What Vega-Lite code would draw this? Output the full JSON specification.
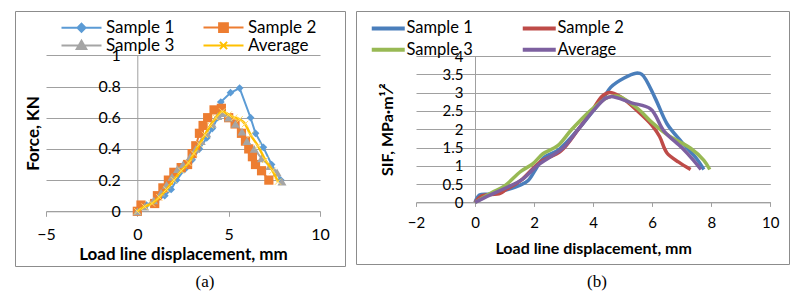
{
  "$schema": "https://vega.github.io/schema/vega-lite/v6.json",
  "padding": {"left": 14, "top": 10, "right": 0, "bottom": 0},
  "background": "white",
  "spacing": 9,
  "config": {
    "font": "Lato",
    "view": {"stroke": "#8c8c8c", "strokeWidth": 1},
    "axis": {"labelFont": "Lato", "titleFont": "Lato", "labelColor": "#000000", "titleColor": "#000000", "domainColor": "#a0a0a0", "gridColor": "#a0a0a0", "tickColor": "#a0a0a0", "domainWidth": 1, "gridWidth": 1},
    "legend": {"labelFont": "Lato", "labelColor": "#000000"}
  },
  "resolve": {"scale": {"color": "independent", "x": "independent", "y": "independent"}, "legend": {"color": "independent"}},
  "datasets": {
    "force": [
      {"s": "Sample 1", "d": 0, "v": 0}, {"s": "Sample 1", "d": 0.2, "v": 0.03}, {"s": "Sample 1", "d": 0.5, "v": 0.04}, {"s": "Sample 1", "d": 1.0, "v": 0.06}, {"s": "Sample 1", "d": 1.5, "v": 0.1}, {"s": "Sample 1", "d": 1.85, "v": 0.14}, {"s": "Sample 1", "d": 2.15, "v": 0.2}, {"s": "Sample 1", "d": 2.6, "v": 0.27}, {"s": "Sample 1", "d": 3.0, "v": 0.33}, {"s": "Sample 1", "d": 3.4, "v": 0.4}, {"s": "Sample 1", "d": 3.8, "v": 0.47}, {"s": "Sample 1", "d": 4.1, "v": 0.53}, {"s": "Sample 1", "d": 4.4, "v": 0.6}, {"s": "Sample 1", "d": 4.57, "v": 0.7}, {"s": "Sample 1", "d": 5.1, "v": 0.76}, {"s": "Sample 1", "d": 5.6, "v": 0.79}, {"s": "Sample 1", "d": 6.2, "v": 0.6}, {"s": "Sample 1", "d": 6.47, "v": 0.5}, {"s": "Sample 1", "d": 6.9, "v": 0.41}, {"s": "Sample 1", "d": 7.35, "v": 0.3}, {"s": "Sample 1", "d": 7.85, "v": 0.2},
      {"s": "Sample 2", "d": 0, "v": 0}, {"s": "Sample 2", "d": 0.2, "v": 0.04}, {"s": "Sample 2", "d": 0.95, "v": 0.05}, {"s": "Sample 2", "d": 1.1, "v": 0.1}, {"s": "Sample 2", "d": 1.4, "v": 0.15}, {"s": "Sample 2", "d": 1.7, "v": 0.2}, {"s": "Sample 2", "d": 2.0, "v": 0.25}, {"s": "Sample 2", "d": 2.4, "v": 0.28}, {"s": "Sample 2", "d": 2.75, "v": 0.3}, {"s": "Sample 2", "d": 3.0, "v": 0.37}, {"s": "Sample 2", "d": 3.2, "v": 0.42}, {"s": "Sample 2", "d": 3.4, "v": 0.5}, {"s": "Sample 2", "d": 3.6, "v": 0.55}, {"s": "Sample 2", "d": 3.85, "v": 0.6}, {"s": "Sample 2", "d": 4.2, "v": 0.65}, {"s": "Sample 2", "d": 4.6, "v": 0.66}, {"s": "Sample 2", "d": 5.0, "v": 0.6}, {"s": "Sample 2", "d": 5.35, "v": 0.56}, {"s": "Sample 2", "d": 5.7, "v": 0.5}, {"s": "Sample 2", "d": 5.92, "v": 0.45}, {"s": "Sample 2", "d": 6.1, "v": 0.4}, {"s": "Sample 2", "d": 6.3, "v": 0.35}, {"s": "Sample 2", "d": 6.47, "v": 0.3}, {"s": "Sample 2", "d": 6.8, "v": 0.26}, {"s": "Sample 2", "d": 7.2, "v": 0.2},
      {"s": "Sample 3", "d": 0, "v": 0}, {"s": "Sample 3", "d": 0.4, "v": 0.03}, {"s": "Sample 3", "d": 0.9, "v": 0.07}, {"s": "Sample 3", "d": 1.3, "v": 0.12}, {"s": "Sample 3", "d": 1.6, "v": 0.17}, {"s": "Sample 3", "d": 1.9, "v": 0.22}, {"s": "Sample 3", "d": 2.2, "v": 0.27}, {"s": "Sample 3", "d": 2.5, "v": 0.3}, {"s": "Sample 3", "d": 2.9, "v": 0.35}, {"s": "Sample 3", "d": 3.2, "v": 0.4}, {"s": "Sample 3", "d": 3.5, "v": 0.45}, {"s": "Sample 3", "d": 3.8, "v": 0.5}, {"s": "Sample 3", "d": 4.1, "v": 0.56}, {"s": "Sample 3", "d": 4.4, "v": 0.61}, {"s": "Sample 3", "d": 4.7, "v": 0.63}, {"s": "Sample 3", "d": 5.0, "v": 0.6}, {"s": "Sample 3", "d": 5.37, "v": 0.56}, {"s": "Sample 3", "d": 5.73, "v": 0.51}, {"s": "Sample 3", "d": 6.0, "v": 0.45}, {"s": "Sample 3", "d": 6.4, "v": 0.4}, {"s": "Sample 3", "d": 6.8, "v": 0.34}, {"s": "Sample 3", "d": 7.25, "v": 0.29}, {"s": "Sample 3", "d": 7.65, "v": 0.25}, {"s": "Sample 3", "d": 7.92, "v": 0.19},
      {"s": "Average", "d": 0, "v": 0}, {"s": "Average", "d": 0.4, "v": 0.03}, {"s": "Average", "d": 0.8, "v": 0.05}, {"s": "Average", "d": 1.2, "v": 0.09}, {"s": "Average", "d": 1.6, "v": 0.14}, {"s": "Average", "d": 2.0, "v": 0.2}, {"s": "Average", "d": 2.4, "v": 0.26}, {"s": "Average", "d": 2.8, "v": 0.31}, {"s": "Average", "d": 3.1, "v": 0.37}, {"s": "Average", "d": 3.4, "v": 0.43}, {"s": "Average", "d": 3.7, "v": 0.49}, {"s": "Average", "d": 4.0, "v": 0.55}, {"s": "Average", "d": 4.3, "v": 0.6}, {"s": "Average", "d": 4.65, "v": 0.64}, {"s": "Average", "d": 5.0, "v": 0.62}, {"s": "Average", "d": 5.3, "v": 0.6}, {"s": "Average", "d": 5.6, "v": 0.59}, {"s": "Average", "d": 5.9, "v": 0.56}, {"s": "Average", "d": 6.2, "v": 0.49}, {"s": "Average", "d": 6.6, "v": 0.42}, {"s": "Average", "d": 7.0, "v": 0.33}, {"s": "Average", "d": 7.4, "v": 0.26}, {"s": "Average", "d": 7.7, "v": 0.19}
    ],
    "sif": [
      {"s": "Sample 1", "d": 0, "v": 0}, {"s": "Sample 1", "d": 0.15, "v": 0.2}, {"s": "Sample 1", "d": 0.5, "v": 0.23}, {"s": "Sample 1", "d": 1.1, "v": 0.35}, {"s": "Sample 1", "d": 1.55, "v": 0.48}, {"s": "Sample 1", "d": 1.8, "v": 0.6}, {"s": "Sample 1", "d": 2.05, "v": 0.9}, {"s": "Sample 1", "d": 2.3, "v": 1.2}, {"s": "Sample 1", "d": 2.85, "v": 1.45}, {"s": "Sample 1", "d": 3.5, "v": 2.0}, {"s": "Sample 1", "d": 4.05, "v": 2.55}, {"s": "Sample 1", "d": 4.35, "v": 2.85}, {"s": "Sample 1", "d": 4.6, "v": 3.15}, {"s": "Sample 1", "d": 5.05, "v": 3.4}, {"s": "Sample 1", "d": 5.45, "v": 3.53}, {"s": "Sample 1", "d": 5.65, "v": 3.5}, {"s": "Sample 1", "d": 6.1, "v": 2.85}, {"s": "Sample 1", "d": 6.5, "v": 2.15}, {"s": "Sample 1", "d": 7.0, "v": 1.65}, {"s": "Sample 1", "d": 7.5, "v": 1.2}, {"s": "Sample 1", "d": 7.75, "v": 0.9},
      {"s": "Sample 2", "d": 0, "v": 0}, {"s": "Sample 2", "d": 0.2, "v": 0.17}, {"s": "Sample 2", "d": 0.85, "v": 0.25}, {"s": "Sample 2", "d": 1.05, "v": 0.35}, {"s": "Sample 2", "d": 1.55, "v": 0.6}, {"s": "Sample 2", "d": 2.2, "v": 1.1}, {"s": "Sample 2", "d": 2.9, "v": 1.4}, {"s": "Sample 2", "d": 3.5, "v": 2.0}, {"s": "Sample 2", "d": 4.0, "v": 2.55}, {"s": "Sample 2", "d": 4.3, "v": 2.9}, {"s": "Sample 2", "d": 4.55, "v": 3.0}, {"s": "Sample 2", "d": 4.9, "v": 2.9}, {"s": "Sample 2", "d": 5.5, "v": 2.5}, {"s": "Sample 2", "d": 6.0, "v": 2.1}, {"s": "Sample 2", "d": 6.25, "v": 1.8}, {"s": "Sample 2", "d": 6.5, "v": 1.35}, {"s": "Sample 2", "d": 6.9, "v": 1.1}, {"s": "Sample 2", "d": 7.3, "v": 0.9},
      {"s": "Sample 3", "d": 0, "v": 0}, {"s": "Sample 3", "d": 0.6, "v": 0.28}, {"s": "Sample 3", "d": 1.0, "v": 0.45}, {"s": "Sample 3", "d": 1.55, "v": 0.85}, {"s": "Sample 3", "d": 1.95, "v": 1.05}, {"s": "Sample 3", "d": 2.3, "v": 1.33}, {"s": "Sample 3", "d": 2.8, "v": 1.55}, {"s": "Sample 3", "d": 3.25, "v": 1.97}, {"s": "Sample 3", "d": 3.9, "v": 2.5}, {"s": "Sample 3", "d": 4.5, "v": 2.87}, {"s": "Sample 3", "d": 4.85, "v": 2.9}, {"s": "Sample 3", "d": 5.5, "v": 2.57}, {"s": "Sample 3", "d": 6.0, "v": 2.18}, {"s": "Sample 3", "d": 6.6, "v": 1.8}, {"s": "Sample 3", "d": 7.3, "v": 1.48}, {"s": "Sample 3", "d": 7.75, "v": 1.15}, {"s": "Sample 3", "d": 7.95, "v": 0.9},
      {"s": "Average", "d": 0, "v": 0}, {"s": "Average", "d": 0.5, "v": 0.2}, {"s": "Average", "d": 1.0, "v": 0.38}, {"s": "Average", "d": 1.6, "v": 0.63}, {"s": "Average", "d": 2.1, "v": 1.0}, {"s": "Average", "d": 2.5, "v": 1.22}, {"s": "Average", "d": 3.0, "v": 1.5}, {"s": "Average", "d": 3.5, "v": 2.0}, {"s": "Average", "d": 4.0, "v": 2.5}, {"s": "Average", "d": 4.4, "v": 2.83}, {"s": "Average", "d": 4.6, "v": 2.89}, {"s": "Average", "d": 5.3, "v": 2.72}, {"s": "Average", "d": 5.95, "v": 2.55}, {"s": "Average", "d": 6.4, "v": 1.95}, {"s": "Average", "d": 7.0, "v": 1.5}, {"s": "Average", "d": 7.4, "v": 1.15}, {"s": "Average", "d": 7.65, "v": 0.9}
    ]
  },
  "hconcat": [
    {
      "width": 330,
      "height": 255,
      "data": {"name": "force"},
      "title": {"text": "(a)", "orient": "bottom", "font": "Liberation Serif", "fontSize": 17, "fontWeight": "normal", "color": "#000000", "offset": 8, "dx": 25},
      "encoding": {
        "x": {"field": "d", "type": "quantitative", "scale": {"domain": [-5, 10], "range": [31, 305], "nice": false, "zero": false},
          "axis": {"values": [-5, 0, 5, 10], "offset": -54.7, "grid": false, "ticks": true, "tickSize": 5, "labelFontSize": 16, "labelPadding": 10, "labelFlush": false, "labelOverlap": false, "title": "Load line displacement, mm", "titleFontSize": 17, "titleFontWeight": "bold", "titleY": 43, "titleBaseline": "middle"}},
        "y": {"field": "v", "type": "quantitative", "scale": {"domain": [0, 1], "range": [200.3, 44.3], "nice": false},
          "axis": {"values": [0, 0.2, 0.4, 0.6, 0.8, 1], "format": "~g", "offset": -122.3, "ticks": false, "labelPadding": 17, "labelFontSize": 16, "labelBaseline": "middle", "grid": true, "title": "Force, KN", "titleFontSize": 17, "titleFontWeight": "bold", "titleX": -104, "titleY": 122, "titleBaseline": "middle", "titleAlign": "center", "titleAngle": -90}}
      },
      "layer": [
        {
          "transform": [{"filter": "datum.s !== 'Average'"}],
          "mark": {"type": "line", "strokeWidth": 2},
          "encoding": {
            "color": {"field": "s", "type": "nominal",
              "scale": {"domain": ["Sample 1", "Sample 2", "Sample 3", "Average"], "range": ["#5b9bd5", "#ed7d31", "#a5a5a5", "#ffc000"]},
              "legend": {"title": null, "values": ["Sample 1", "Sample 3", "Sample 2", "Average"], "orient": "none", "legendX": 58, "legendY": 8, "columns": 2, "columnPadding": 24, "rowPadding": 0, "padding": 0, "symbolSize": 64, "symbolStrokeWidth": 2, "labelFontSize": 17, "labelOffset": 16,
                "encode": {"symbols": {"update": {
                  "shape": {"signal": "datum.value === 'Sample 1' ? 'M-5,0H5M0,-1L1,0L0,1L-1,0Z' : datum.value === 'Sample 2' ? 'M-5,0H5M-1.1,-1.1H1.1V1.1H-1.1Z' : datum.value === 'Sample 3' ? 'M-5,0H5M0,-1.2L1.2,0.9H-1.2Z' : 'M-5,0H5M-0.9,-0.9L0.9,0.9M-0.9,0.9L0.9,-0.9'"},
                  "fill": {"signal": "datum.value === 'Sample 1' ? '#5b9bd5' : datum.value === 'Sample 2' ? '#ed7d31' : datum.value === 'Sample 3' ? '#a5a5a5' : 'transparent'"},
                  "stroke": {"signal": "datum.value === 'Sample 1' ? '#5b9bd5' : datum.value === 'Sample 2' ? '#ed7d31' : datum.value === 'Sample 3' ? '#a5a5a5' : '#ffc000'"},
                  "strokeWidth": {"value": 2},
                  "opacity": {"value": 1}
                }}}}
            }
          }
        },
        {
          "transform": [{"filter": "datum.s === 'Sample 1'"}],
          "mark": {"type": "point", "filled": true, "shape": "diamond", "size": 60, "color": "#5b9bd5", "opacity": 1}
        },
        {
          "transform": [{"filter": "datum.s === 'Sample 2'"}],
          "mark": {"type": "point", "filled": true, "shape": "square", "size": 85, "color": "#ed7d31", "opacity": 1}
        },
        {
          "transform": [{"filter": "datum.s === 'Sample 3'"}],
          "mark": {"type": "point", "filled": true, "shape": "triangle-up", "size": 80, "color": "#a5a5a5", "opacity": 1}
        },
        {
          "transform": [{"filter": "datum.s === 'Average'"}],
          "mark": {"type": "line", "strokeWidth": 2.5, "interpolate": "monotone"},
          "encoding": {"color": {"field": "s", "type": "nominal"}}
        },
        {
          "transform": [{"filter": "datum.s === 'Average'"}],
          "mark": {"type": "point", "filled": false, "shape": "M-1,-1L1,1M-1,1L1,-1", "size": 40, "stroke": "#ffd966", "strokeWidth": 1, "opacity": 1}
        }
      ]
    },
    {
      "width": 433,
      "height": 253,
      "data": {"name": "sif"},
      "title": {"text": "(b)", "orient": "bottom", "font": "Liberation Serif", "fontSize": 17, "fontWeight": "normal", "color": "#000000", "offset": 10, "dx": 24.5},
      "mark": {"type": "line", "strokeWidth": 3.5, "interpolate": "catmull-rom"},
      "encoding": {
        "x": {"field": "d", "type": "quantitative", "scale": {"domain": [-2, 10], "range": [60, 414.3], "nice": false, "zero": false},
          "axis": {"values": [-2, 0, 2, 4, 6, 8, 10], "offset": -61.6, "grid": false, "ticks": true, "tickSize": 4, "labelFontSize": 15, "labelPadding": 9, "labelFlush": false, "labelOverlap": false, "title": "Load line displacement, mm", "titleFontSize": 16, "titleFontWeight": "bold", "titleY": 45.6, "titleBaseline": "middle"}},
        "y": {"field": "v", "type": "quantitative", "scale": {"domain": [0, 4], "range": [191.4, 45], "nice": false},
          "axis": {"values": [0, 0.5, 1, 1.5, 2, 2.5, 3, 3.5, 4], "format": "~g", "offset": -119, "ticks": false, "labelPadding": 12, "labelFontSize": 15, "labelBaseline": "middle", "grid": true, "title": "SIF, MPa·m¹⁄²", "titleFontSize": 16, "titleFontWeight": "bold", "titleX": -88, "titleY": 118.2, "titleBaseline": "middle", "titleAlign": "center", "titleAngle": -90}},
        "color": {"field": "s", "type": "nominal",
          "scale": {"domain": ["Sample 1", "Sample 2", "Sample 3", "Average"], "range": ["#4a7ebb", "#be4b48", "#98b954", "#7d60a0"]},
          "legend": {"title": null, "values": ["Sample 1", "Sample 3", "Sample 2", "Average"], "orient": "none", "legendX": 24, "legendY": 9, "columns": 2, "columnPadding": 41, "rowPadding": 4.5, "padding": 0, "symbolType": "M-3,0H3", "symbolSize": 121, "symbolStrokeWidth": 4, "labelFontSize": 16.5, "labelOffset": 10}}
      }
    }
  ]
}
